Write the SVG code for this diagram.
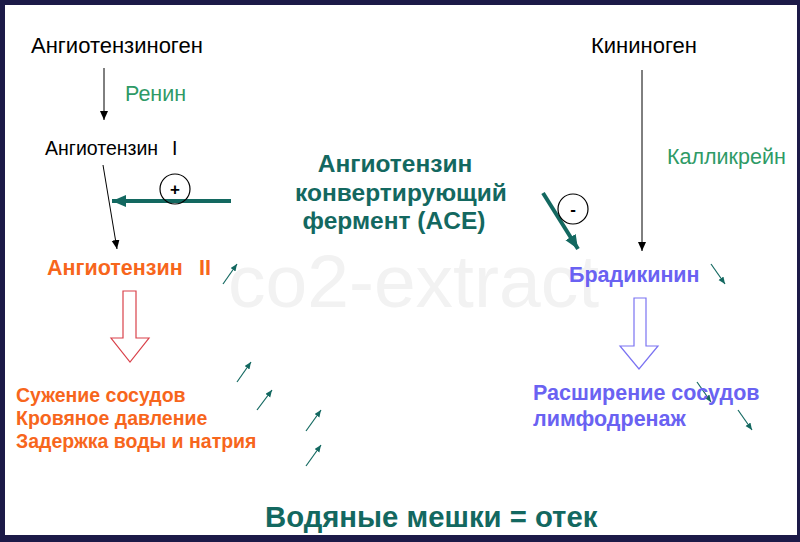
<svg xmlns="http://www.w3.org/2000/svg" width="800" height="542" viewBox="0 0 800 542">
<defs>
<style>
text{font-family:"Liberation Sans",Arial,sans-serif}
.blk{fill:#000;font-size:22px}
.grn{fill:#2e9a66;font-size:21.5px}
.org{fill:#f7661c;font-weight:bold}
.tea{fill:#136860;font-weight:bold}
.pur{fill:#6a62f2;font-weight:bold}
.thin{stroke:#000;stroke-width:1;fill:none}
.thick{stroke:#136860;stroke-width:4;fill:none}
.sm{stroke:#136860;stroke-width:1.2;fill:none}
.circ{fill:none;stroke:#000;stroke-width:1.2}
</style>
<marker id="ah" markerUnits="userSpaceOnUse" markerWidth="10" markerHeight="10" refX="9" refY="4" orient="auto"><path d="M0,0 L9,4 L0,8 Z" fill="#000"/></marker>
<marker id="ahT" markerUnits="userSpaceOnUse" markerWidth="16" markerHeight="14" refX="14" refY="6" orient="auto"><path d="M0,0 L14,6 L0,12 Z" fill="#136860"/></marker>
<marker id="ahS" markerUnits="userSpaceOnUse" markerWidth="8" markerHeight="8" refX="7" refY="3" orient="auto"><path d="M0,0 L7,3 L0,6 Z" fill="#136860"/></marker>
</defs>
<rect x="0" y="0" width="800" height="542" fill="#1c1a48"/>
<rect x="5" y="5" width="792" height="530" fill="#fff"/>
<text x="228" y="307" font-size="75" fill="#f2f2f2">co2-extract</text>

<g id="connectors">
<line class="thin" x1="104" y1="68" x2="104" y2="120" marker-end="url(#ah)"/>
<line class="thin" x1="103" y1="165" x2="117" y2="249" marker-end="url(#ah)"/>
<line class="thin" x1="642" y1="70" x2="642" y2="251" marker-end="url(#ah)"/>
<line class="thick" x1="231" y1="201" x2="112" y2="201" marker-end="url(#ahT)"/>
<line class="thick" x1="543" y1="193" x2="578" y2="249" marker-end="url(#ahT)"/>
<path d="M123,291 H136 V338 H149 L130,362 L111,338 H123 Z" fill="#fff" stroke="#d9414a" stroke-width="1.2"/>
<path d="M634,298 H646 V346 H658 L639,369 L620,346 H634 Z" fill="#fff" stroke="#7b73f2" stroke-width="1.2"/>
<line class="sm" x1="223" y1="284" x2="237" y2="264" marker-end="url(#ahS)"/>
<line class="sm" x1="237" y1="382" x2="251" y2="362" marker-end="url(#ahS)"/>
<line class="sm" x1="257" y1="410" x2="272" y2="390" marker-end="url(#ahS)"/>
<line class="sm" x1="306" y1="431" x2="321" y2="410" marker-end="url(#ahS)"/>
<line class="sm" x1="306" y1="466" x2="321" y2="445" marker-end="url(#ahS)"/>
<line class="sm" x1="711" y1="264" x2="725" y2="284" marker-end="url(#ahS)"/>
<line class="sm" x1="697" y1="382" x2="711" y2="402" marker-end="url(#ahS)"/>
<line class="sm" x1="738" y1="410" x2="752" y2="430" marker-end="url(#ahS)"/>
</g>

<g id="plus"><circle class="circ" cx="175" cy="189" r="15"/><text x="175" y="195" font-size="17" font-weight="bold" text-anchor="middle">+</text></g>
<g id="minus"><circle class="circ" cx="573" cy="209" r="15"/><text x="573" y="215" font-size="17" font-weight="bold" text-anchor="middle">-</text></g>

<g id="angiotensinogen"><text class="blk" x="31" y="53">Ангиотензиноген</text></g>
<g id="renin"><text class="grn" x="125" y="101">Ренин</text></g>
<g id="angiotensin1"><text class="blk" y="155" style="font-size:19.5px"><tspan x="45">Ангиотензин</tspan><tspan x="172">I</tspan></text></g>
<g id="angiotensin2"><text class="org" y="275" style="font-size:21.5px"><tspan x="47">Ангиотензин</tspan><tspan x="199">II</tspan></text></g>
<g id="ace"><text class="tea" text-anchor="middle" style="font-size:24.5px"><tspan x="395" y="172">Ангиотензин</tspan><tspan x="401" y="201">конвертирующий</tspan><tspan x="394" y="229">фермент (ACE)</tspan></text></g>
<g id="effects-left"><text class="org" style="font-size:19.5px"><tspan x="16" y="402">Сужение сосудов</tspan><tspan x="16" y="425">Кровяное давление</tspan><tspan x="16" y="448">Задержка воды и натрия</tspan></text></g>
<g id="kininogen"><text class="blk" x="591" y="53">Кининоген</text></g>
<g id="kallikrein"><text class="grn" x="667" y="164">Калликрейн</text></g>
<g id="bradykinin"><text class="pur" x="569" y="282" style="font-size:21.5px">Брадикинин</text></g>
<g id="effects-right"><text class="pur" style="font-size:21.5px"><tspan x="533" y="400">Расширение сосудов</tspan><tspan x="533" y="426">лимфодренаж</tspan></text></g>
<g id="result"><text class="tea" x="265" y="527" style="font-size:29.3px">Водяные мешки = отек</text></g>
</svg>
